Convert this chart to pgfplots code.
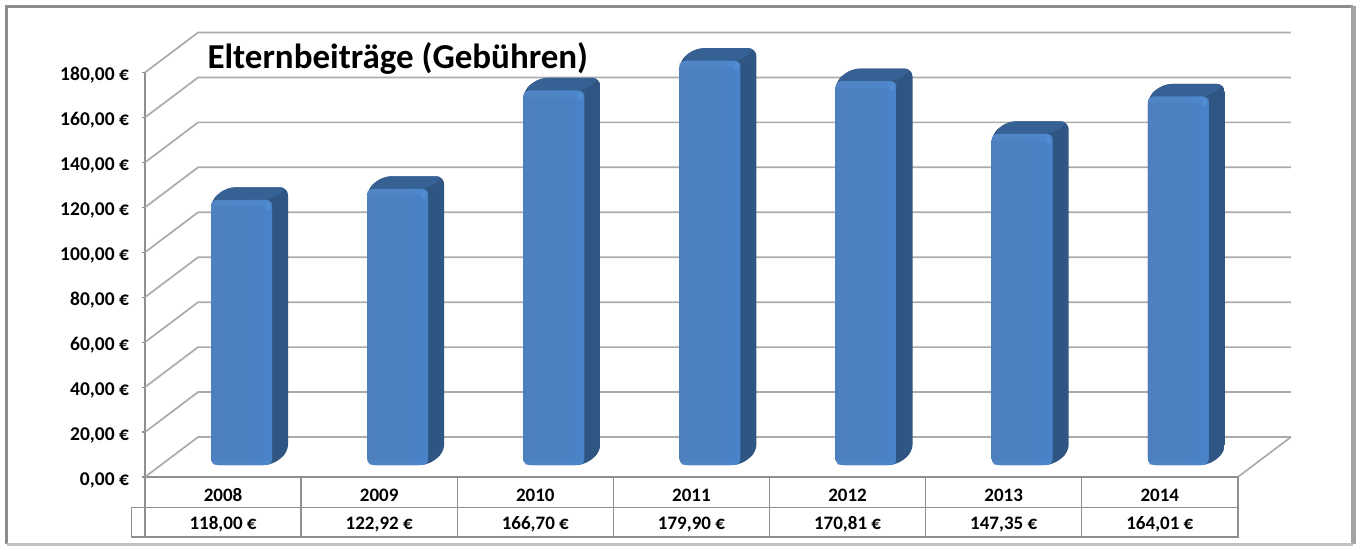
\documentclass[border=0pt]{standalone}
\usepackage{pgfplots}
\pgfplotsset{compat=1.18}
\usepackage{fontspec}
\setmainfont{Carlito}
\definecolor{gridc}{HTML}{ABABAB}
\definecolor{framec}{HTML}{8C8C8C}
\definecolor{tblc}{HTML}{8F8F8F}
\definecolor{fa}{HTML}{4273AE}
\definecolor{fb}{HTML}{4F7FBC}
\definecolor{fc}{HTML}{4C80C0}
\definecolor{fd}{HTML}{4784CC}
\definecolor{fe}{HTML}{3F6EA8}
\definecolor{sidec}{HTML}{2F5582}
\definecolor{sided}{HTML}{355C8A}
\definecolor{topc}{HTML}{366194}
\definecolor{stripc}{HTML}{5A96DC}
\pgfdeclarehorizontalshading{barface}{100bp}{color(0bp)=(fa);color(8bp)=(fb);color(55bp)=(fc);color(82bp)=(fd);color(93bp)=(fd);color(100bp)=(fe)}
\pgfdeclarehorizontalshading{barside}{100bp}{color(0bp)=(sidec);color(70bp)=(sidec);color(100bp)=(sided)}
\def\hw{0.1953}\def\dx{0.1025}\def\dy{5.56}
\newcommand\threedbar[2]{%
  \pgfmathsetmacro\xl{#1-\hw}\pgfmathsetmacro\xr{#1+\hw}%
  \pgfmathsetmacro\xlb{#1-\hw+\dx}\pgfmathsetmacro\xrb{#1+\hw+\dx}%
  \pgfmathsetmacro\vb{#2+\dy}%
  \pgfmathsetmacro\vs{#2-3}\pgfmathsetmacro\xrc{#1+\hw-0.01}\pgfmathsetmacro\xlc{#1-\hw+0.01}%
  \pgfmathsetmacro\xsa{#1+\hw-0.045}\pgfmathsetmacro\xsb{#1+\hw-0.01}\pgfmathsetmacro\vsa{#2-4.5}\pgfmathsetmacro\vsb{#2-1.5}%
  \addplot[draw=none,shade,shading=barside,rounded corners=8pt] coordinates {(\xl,#2) (\xlb,\vb) (\xrb,\vb) (\xrb,\dy) (\xr,0) (\xl,0)} -- cycle;
  \addplot[draw=none,fill=topc,rounded corners=8pt] coordinates {(\xl,#2) (\xlb,\vb) (\xrb,\vb) (\xr,#2)} -- cycle;
  \addplot[draw=none,shade,shading=barface,rounded corners=6pt] coordinates {(\xl,0) (\xl,#2) (\xr,#2) (\xr,0)} -- cycle;
  \addplot[draw=none,fill=stripc,fill opacity=.28,rounded corners=6pt] coordinates {(\xl,\vs) (\xl,#2) (\xr,#2) (\xr,\vs)} -- cycle;
  \addplot[draw=none,fill=stripc,fill opacity=.5,rounded corners=3pt] coordinates {(\xsa,\vsa) (\xsa,\vsb) (\xsb,\vsb) (\xsb,\vsa)} -- cycle;
  \addplot[draw=none,fill=stripc,fill opacity=.22] coordinates {(\xlc,0) (\xlc,2) (\xrc,2) (\xrc,0)} -- cycle;
}
\newcommand\wallline[1]{%
  \pgfmathsetmacro\vb{#1+17.8}%
  \addplot[gridc,line width=1.7pt] coordinates {(-0.5,#1) (-0.16,\vb) (6.84,\vb)};
}
\begin{document}
\begin{tikzpicture}[x=1pt,y=1pt]
\useasboundingbox (0,0) rectangle (1359,547);
\fill[white] (0,0) rectangle (1359,547);
\draw[framec,line width=3.5pt] (6.5,3) -- (6.5,540.5) -- (1353,540.5);
\draw[framec!80,line width=5pt] (1353,540.5) -- (1353,3);
\draw[framec!55,line width=3pt] (1353,3) -- (6.5,3);
\begin{axis}[
  at={(145pt,70pt)},anchor=south west,scale only axis,
  width=1093pt,height=404.5pt,
  xmin=-0.5,xmax=6.5,ymin=0,ymax=180,clip=false,
  axis y line*=left,axis x line*=bottom,
  axis line style={tblc,line width=1.5pt,-},
  xtick={0,1,2,3,4,5,6},
  xticklabels={2008,2009,2010,2011,2012,2013,2014},
  xtick style={draw=none},
  xticklabel style={font=\fontsize{19}{19}\selectfont\bfseries,text height=12pt,text depth=0pt,yshift=-5pt},
  ytick={0,20,40,60,80,100,120,140,160,180},
  ytick style={tblc,line width=1.2pt},
  tick align=outside,major tick length=3.5pt,
  yticklabel style={font=\fontsize{19.5}{19.5}\selectfont\bfseries,xshift=-9pt,yshift=-2pt,text height=12pt,text depth=0pt},
  yticklabel={\pgfmathprintnumber[fixed,fixed zerofill,precision=2,use comma,1000 sep={},assume math mode=true]{\tick}~€},
]
\wallline{0}\wallline{20}\wallline{40}\wallline{60}\wallline{80}
\wallline{100}\wallline{120}\wallline{140}\wallline{160}\wallline{180}
\addplot[gridc,line width=1.7pt] coordinates {(6.5,0) (6.84,17.8)};
\draw[tblc,line width=1.4pt] (axis cs:-0.585,-13.5) rectangle (axis cs:6.5,-26.7);
\foreach \k in {-0.5,0.5,1.5,2.5,3.5,4.5,5.5,6.5}{\edef\t{\noexpand\draw[tblc,line width=1.4pt] (axis cs:\k,0) -- (axis cs:\k,-26.7);}\t}
\foreach \k/\l in {0/118{,}00,1/122{,}92,2/166{,}70,3/179{,}90,4/170{,}81,5/147{,}35,6/164{,}01}{\edef\t{\noexpand\node[text height=12pt,text depth=0pt,font=\noexpand\fontsize{19}{19}\noexpand\selectfont\noexpand\bfseries] at (axis cs:\k,-20.9) {\l~€};}\t}
\end{axis}
\begin{axis}[
  at={(163.5pt,82pt)},anchor=south west,scale only axis,
  width=1093pt,height=404.5pt,
  xmin=-0.5,xmax=6.5,ymin=0,ymax=180,clip=false,hide axis,
]
\threedbar{0}{118.00}
\threedbar{1}{122.92}
\threedbar{2}{166.70}
\threedbar{3}{179.90}
\threedbar{4}{170.81}
\threedbar{5}{147.35}
\threedbar{6}{164.01}
\end{axis}
\node[anchor=west,font=\fontsize{35}{35}\selectfont\bfseries] at (204,488.5) {Elternbeiträge (Gebühren)};
\end{tikzpicture}
\end{document}
